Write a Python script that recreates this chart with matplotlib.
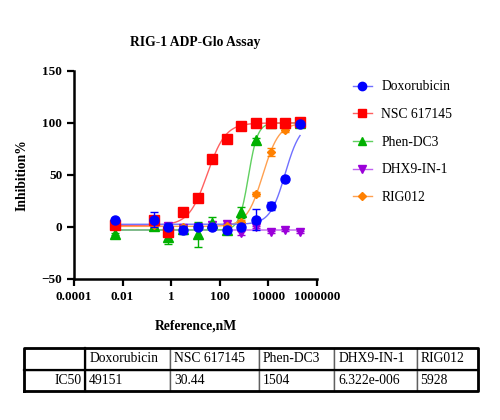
import numpy as np
import matplotlib
matplotlib.use("Agg")
import matplotlib.pyplot as plt
from matplotlib.lines import Line2D

plt.rcParams["font.family"] = ["Liberation Serif", "DejaVu Serif"]

# concentrations (nM)
conc = [0.005, 0.19, 0.76, 3.05, 12.2, 48.8, 195, 781, 3125, 12500, 50000, 200000]

names = ["Doxorubicin", "NSC 617145", "Phen-DC3", "DHX9-IN-1", "RIG012"]
ic50 = [49151, 30.44, 1504, 6.322e-006, 5928]
ic50_text = ["49151", "30.44", "1504", "6.322e-006", "5928"]

dox = [7, 7, 0, -3, 0, 0, -3, 0, 7, 20, 46, 99]
dox_err = [2, 7, 2, 4, 2, 2, 2, 2, 10, 4, 2, 2]
nsc = [2, 7, -4.5, 14, 27.5, 65, 85, 97, 99.5, 99.5, 99.5, 100.5]
nsc_err = [1, 2, 2, 2, 2, 2, 2, 2, 1, 1, 1, 1]
phen = [-7, 1, -10, -2, -7, 4, -3, 14, 84, 99.5, 99.5, 99.5]
phen_err = [1, 2, 6, 3, 12, 6, 2, 5, 2, 1, 1, 1]
dhx = [1, 2, 1, -1, 0, 2, 3, -6, 0, -4.5, -3, -4.5]
dhx_err = [1, 1, 1, 1, 1, 1, 1, 2, 1, 1, 1, 1]
rig = [1, 2, 1, 0, 0, 1, 1, 5, 32, 72, 93, 100]
rig_err = [1, 1, 1, 1, 1, 1, 1, 2, 2, 4, 2, 1]

# fit parameters (bottom, top, hill)
fit_bottom = [2.5, 1.5, -3, 0, 0.5]
fit_top = [100, 100, 100, -3, 100]
fit_hill = [1.39, 1.15, 2.3, 1.0, 1.3]

values = [dox, nsc, phen, dhx, rig]
errors = [dox_err, nsc_err, phen_err, dhx_err, rig_err]
mcolors = ["#0000FF", "#FF0000", "#00B000", "#9B00D9", "#FF8000"]
lcolors = ["#7070FF", "#FF6060", "#60D060", "#C060F0", "#FFA050"]
markers = ["o", "s", "^", "v", "D"]
msizes = [6.5, 6.5, 6.5, 6, 4.5]
order = [3, 2, 4, 1, 0]  # drawing order, last on top

fig = plt.figure(figsize=(5, 4.2), dpi=100)
ax = fig.add_axes([0.148, 0.336, 0.486, 0.495])

xs = np.logspace(np.log10(conc[0]), np.log10(conc[-1]), 300)
for k, i in enumerate(order):
    y = fit_bottom[i] + (fit_top[i] - fit_bottom[i]) / (1 + (ic50[i] / xs) ** fit_hill[i])
    ax.plot(xs, y, color=lcolors[i], lw=1.0, zorder=2 + k * 0.1)
for k, i in enumerate(order):
    ax.errorbar(conc, values[i], yerr=errors[i], fmt=markers[i], color=mcolors[i],
                ms=msizes[i], capsize=3, elinewidth=1, capthick=1, zorder=3 + k * 0.1)

ax.set_xscale("log")
ax.set_xlim(1e-4, 1e6)
ax.set_ylim(-50, 150)
ax.set_xticks([1e-4, 1e-2, 1, 1e2, 1e4, 1e6])
ax.set_xticklabels(["0.0001", "0.01", "1", "100", "10000", "1000000"])
ax.minorticks_off()
ax.set_yticks([-50, 0, 50, 100, 150])
for s in ["top", "right"]:
    ax.spines[s].set_visible(False)
for s in ["left", "bottom"]:
    ax.spines[s].set_linewidth(1.8)
ax.tick_params(width=1.6, length=5, labelsize=9.5)
for lab in ax.get_xticklabels() + ax.get_yticklabels():
    lab.set_fontweight("bold")
ax.set_xlabel("Reference,nM", fontsize=9.8, fontweight="bold", labelpad=12)
ax.set_ylabel("Inhibition%", fontsize=9.8, fontweight="bold", labelpad=9)
ax.set_title("RIG-1 ADP-Glo Assay", fontsize=9.8, fontweight="bold", pad=18)

handles = [Line2D([0], [0], color=lcolors[i], lw=1, marker=markers[i], mfc=mcolors[i],
                  mec=mcolors[i], ms=msizes[i] - 0.5) for i in range(5)]
fig.legend(handles, names, loc="upper left", bbox_to_anchor=(0.682, 0.838), frameon=False,
           fontsize=9.8, handlelength=1.35, labelspacing=1.08, handletextpad=0.7)

# IC50 table
tax = fig.add_axes([24.3 / 500, 1 - 391 / 420, 454 / 500, 43 / 420])
tax.axis("off")
widths = np.array([60.7, 85, 89.3, 74.7, 83.3, 61])
tbl = tax.table(cellText=[[""] + names, ["IC50"] + ic50_text], bbox=[0, 0, 1, 1],
                colWidths=list(widths / widths.sum()), cellLoc="left")
tbl.auto_set_font_size(False)
for (r, c), cell in tbl.get_celld().items():
    cell.set_linewidth(1.0)
    cell.set_edgecolor("#606060")
    cell.get_text().set_fontsize(9.8)
    cell.PAD = 0.05
    if c == 0:
        cell.get_text().set_horizontalalignment("right")
tax.plot([0, 1, 1, 0, 0], [0, 0, 1, 1, 0], color="black", lw=2, transform=tax.transAxes, clip_on=False)
tax.plot([0, 1], [0.5, 0.5], color="black", lw=1.6, transform=tax.transAxes, clip_on=False)
x1 = widths[0] / widths.sum()
tax.plot([x1, x1], [0, 1], color="black", lw=1.6, transform=tax.transAxes, clip_on=False)

fig.savefig("out.png", dpi=100)
